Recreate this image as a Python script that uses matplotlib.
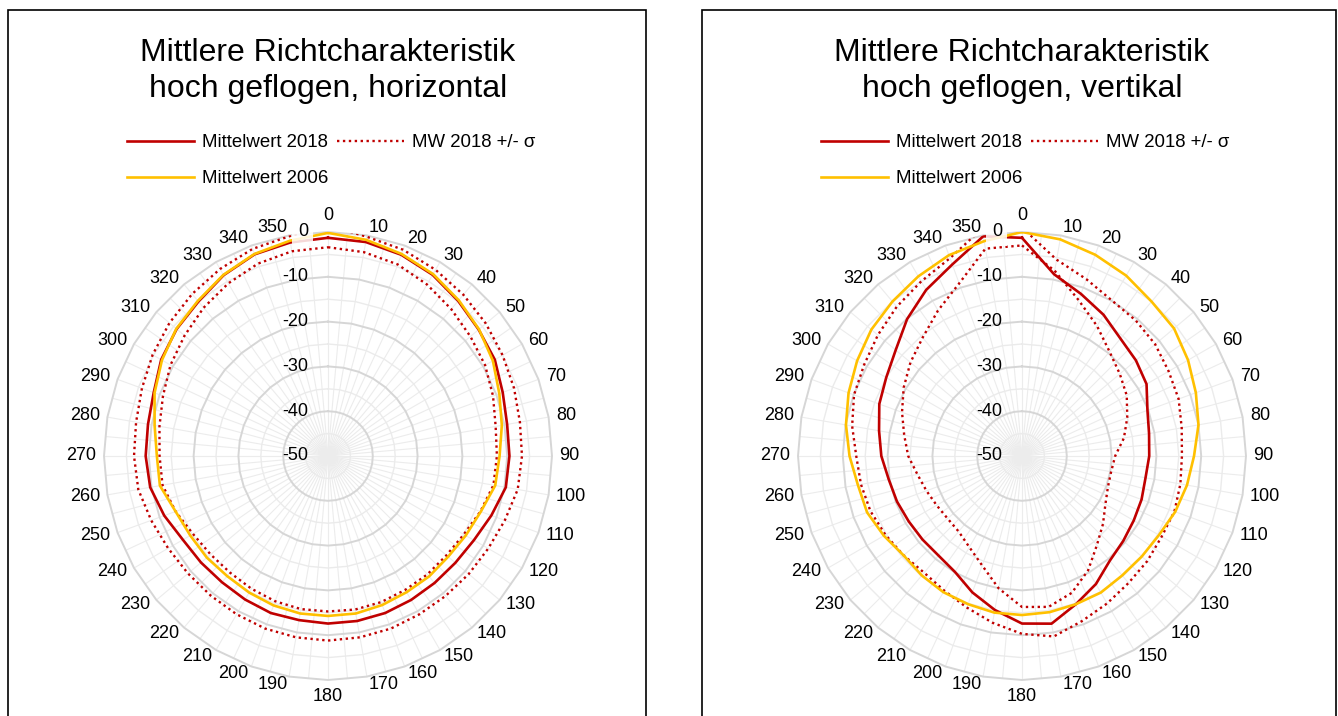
import numpy as np
import matplotlib.pyplot as plt
import matplotlib.transforms as mtransforms
from matplotlib.lines import Line2D
from matplotlib.patches import Rectangle

plt.rcParams['font.family'] = ['Liberation Sans', 'DejaVu Sans']

# angles in degrees, 0 = top, clockwise
ANGLES = np.arange(0, 360, 10)

# ---- horizontal (left panel), dB ----
H_MEAN_2018 = [-1.3, -1.5, -2.2, -3.3, -4.8, -6.1, -7.0, -8.5, -9.4, -9.5, -9.7, -11.2,
               -12.4, -12.9, -13.0, -12.9, -12.7, -12.6, -12.6, -12.8, -12.7, -13.0, -13.2, -13.0,
               -12.6, -11.1, -9.7, -9.3, -9.2, -8.6, -7.0, -5.9, -5.0, -3.4, -2.1, -1.6]
H_UPPER = [1.5, -0.3, -1.0, -2.0, -3.0, -4.0, -5.0, -5.8, -6.5, -6.7, -7.0, -8.0,
           -8.7, -9.0, -9.2, -9.2, -9.0, -8.9, -8.8, -8.9, -9.0, -9.2, -9.3, -9.2,
           -8.8, -8.0, -7.0, -6.7, -6.5, -5.8, -4.8, -3.8, -2.8, -1.8, -0.8, -0.2]
H_LOWER = [-3.4, -3.8, -4.5, -5.8, -7.2, -8.5, -9.5, -10.8, -12.0, -12.3, -12.5, -13.8,
           -15.0, -15.5, -15.5, -15.5, -15.3, -15.2, -15.3, -15.3, -15.5, -15.8, -16.0, -15.8,
           -15.2, -13.8, -12.5, -12.4, -11.8, -10.8, -9.4, -8.2, -6.8, -5.5, -4.3, -3.6]
H_MEAN_2006 = [-0.2, -1.0, -2.0, -3.1, -4.6, -6.0, -7.5, -9.3, -10.6, -11.7, -12.1, -13.7,
               -14.5, -15.0, -14.9, -14.9, -14.6, -14.3, -14.3, -14.3, -14.5, -14.8, -15.0, -14.7,
               -14.5, -13.8, -11.9, -11.8, -10.7, -8.8, -7.2, -5.8, -4.8, -3.3, -2.0, -1.2]

# ---- vertical (right panel), dB ----
V_MEAN_2018 = [-1.3, -8.8, -11.5, -13.6, -15.8, -16.8, -17.9, -20.2, -21.2, -21.6, -22.0, -21.6,
               -21.2, -20.5, -19.5, -17.0, -14.8, -12.0, -12.6, -15.1, -17.6, -20.1, -21.0, -21.0,
               -20.8, -20.3, -19.8, -18.6, -17.6, -16.1, -15.0, -13.2, -10.1, -7.2, -4.5, -0.2]
V_UPPER = [1.0, -5.5, -8.0, -9.9, -10.5, -11.2, -12.2, -12.8, -13.8, -14.3, -14.1, -13.8,
           -14.0, -13.5, -13.0, -12.0, -10.8, -9.1, -10.3, -12.2, -14.0, -15.3, -16.0, -15.5,
           -14.8, -14.0, -13.5, -13.0, -11.5, -10.1, -9.3, -8.0, -6.5, -5.0, -3.0, 1.5]
V_LOWER = [-3.0, -8.0, -13.0, -16.5, -19.6, -21.5, -23.0, -25.0, -26.9, -29.2, -29.8, -29.6,
           -28.5, -26.4, -24.0, -20.5, -17.5, -15.8, -16.3, -20.0, -24.0, -26.5, -28.0, -28.3,
           -28.0, -27.3, -26.3, -24.6, -23.3, -21.5, -19.5, -17.5, -15.5, -12.5, -9.0, -3.0]
V_MEAN_2006 = [0.0, -0.9, -2.2, -3.5, -5.0, -5.7, -7.2, -8.7, -10.0, -11.6, -12.6, -13.6,
               -14.7, -15.1, -15.2, -14.8, -14.8, -14.6, -14.5, -14.5, -14.8, -14.9, -15.2, -15.5,
               -14.4, -13.2, -12.8, -11.5, -10.1, -8.8, -7.5, -6.1, -5.0, -3.7, -2.3, -1.3]

RINGS = np.arange(-45, 1, 5)
RING_LABELS = [0, -10, -20, -30, -40, -50]

LEG_2018 = 'Mittelwert 2018'
LEG_SIGMA = 'MW 2018 +/- σ'
LEG_2006 = 'Mittelwert 2006'

RED = '#C00000'
GOLD = '#FFC000'
DOTS = (0, (1, 1.5))

W, H = 1338, 716
R_PX = 224          # pixel radius of the 0 dB ring
LABEL_R = 1.7       # anchor radius (dB units) for the angle labels

fig = plt.figure(figsize=(W / 100, H / 100), dpi=100)


def px_rect(cx, cy, r):
    return [(cx - r) / W, 1 - (cy + r) / H, 2 * r / W, 2 * r / H]


def close(v):
    return np.append(v, v[0])


def label_align(a):
    # excel-like placement: labels sit outside the ring, pushed sideways
    if a == 0:
        return 'center', 'bottom'
    if a == 180:
        return 'center', 'top'
    return ('left' if a < 180 else 'right'), 'center'


def draw_panel(cx, cy, title, mean18, upper, lower, mean06):
    ax = fig.add_axes(px_rect(cx, cy, R_PX), projection='polar')
    ax.set_theta_zero_location('N')
    ax.set_theta_direction(-1)
    ax.set_ylim(-50, 0)
    ax.grid(False)
    ax.set_xticks([])
    ax.set_yticks([])
    ax.spines['polar'].set_visible(False)
    ax.patch.set_alpha(0)

    # radar-style grid: spokes every 5 deg, polygon rings every 5 dB
    ax.vlines(np.deg2rad(np.arange(0, 360, 5)), -50, 0, color='#ececec', lw=0.8, zorder=0.3)
    ring_t = np.deg2rad(np.append(ANGLES, 0))
    for lev in RINGS:
        major = lev % 10 == 0
        ax.plot(ring_t, np.full(ring_t.size, lev), color='#d6d6d6' if major else '#ebebeb',
                lw=1.4 if major else 1.0, zorder=0.5, clip_on=False)

    th = np.deg2rad(np.append(ANGLES, 0))
    ax.plot(th, close(upper), color=RED, lw=1.7, ls=DOTS, zorder=2)
    ax.plot(th, close(lower), color=RED, lw=1.7, ls=DOTS, zorder=2)
    ax.plot(th, close(mean18), color=RED, lw=1.9, zorder=2.1)
    ax.plot(th, close(mean06), color=GOLD, lw=1.9, zorder=2.2)

    for a in ANGLES:
        ha, va = label_align(a)
        ax.text(np.deg2rad(a), LABEL_R, str(a), ha=ha, va=va, fontsize=13, clip_on=False)

    off = mtransforms.offset_copy(ax.transData, fig=fig, x=-20, y=0, units='dots')
    for lev in RING_LABELS:
        box = None
        if lev == 0:
            box = dict(boxstyle='square,pad=0.3', fc='white', ec='none', alpha=0.85)
        ax.text(0, lev, str(lev), ha='right', va='center', fontsize=13,
                transform=off, bbox=box, zorder=5)

    fig.text(cx / W, 1 - 71 / H, title, ha='center', va='center', fontsize=23,
             linespacing=1.25)

    handles = [Line2D([], [], color=RED, lw=1.9),
               Line2D([], [], color=GOLD, lw=1.9),
               Line2D([], [], color=RED, lw=1.7, ls=DOTS)]
    fig.legend(handles, [LEG_2018, LEG_2006, LEG_SIGMA], ncol=2, loc='upper left',
               bbox_to_anchor=((cx - 201) / W, 1 - 134 / H), frameon=False,
               fontsize=13.4, handlelength=3.6, handletextpad=0.45, columnspacing=0.45,
               labelspacing=1.02, borderpad=0, borderaxespad=0)
    return ax


draw_panel(328, 456, 'Mittlere Richtcharakteristik\nhoch geflogen, horizontal',
           H_MEAN_2018, H_UPPER, H_LOWER, H_MEAN_2006)
draw_panel(1022, 456, 'Mittlere Richtcharakteristik\nhoch geflogen, vertikal',
           V_MEAN_2018, V_UPPER, V_LOWER, V_MEAN_2006)

for x0, x1 in [(8, 646), (702, 1336)]:
    fig.add_artist(Rectangle((x0 / W, -0.05), (x1 - x0) / W, 1.05 - 10 / H,
                             transform=fig.transFigure, fill=False, ec='black', lw=1.2,
                             clip_on=False))

fig.savefig('out.png', dpi=100)
